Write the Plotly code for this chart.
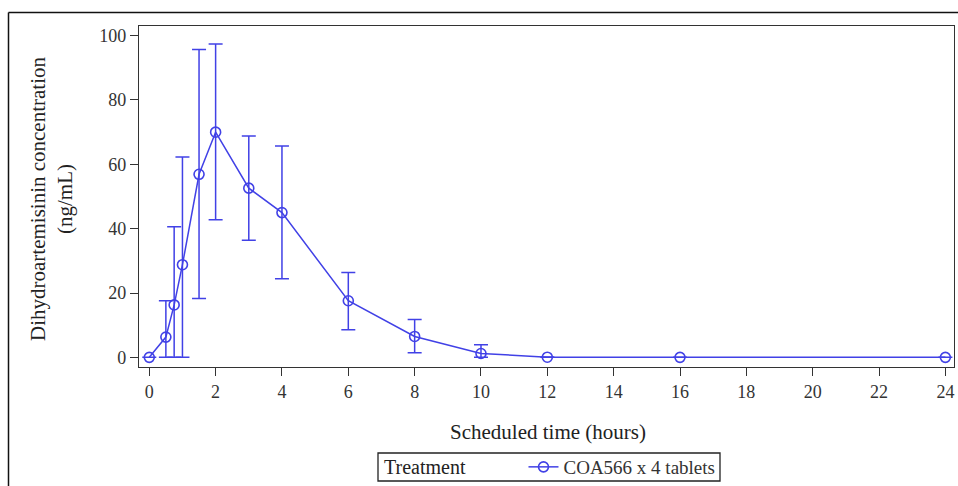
import plotly.graph_objects as go

# Data
time_h = [0, 0.5, 0.75, 1, 1.5, 2, 3, 4, 6, 8, 10, 12, 16, 24]
mean_conc = [0, 6.3, 16.3, 28.8, 56.9, 70.0, 52.6, 45.0, 17.6, 6.5, 1.2, 0.05, 0, 0]
upper = [0, 17.6, 40.6, 62.3, 95.7, 97.4, 68.8, 65.7, 26.4, 11.8, 3.9, 0.1, 0, 0]
lower = [0, 0, 0, 0, 18.3, 42.8, 36.4, 24.4, 8.6, 1.4, 0, 0, 0, 0]

series_name = "COA566 x 4 tablets"
legend_title = "Treatment"
x_title = "Scheduled time (hours)"
y_title = "Dihydroartemisinin concentration<br>(ng/mL)"
x_ticks = list(range(0, 25, 2))
y_ticks = [0, 20, 40, 60, 80, 100]

err_plus = [u - m for u, m in zip(upper, mean_conc)]
err_minus = [m - l for m, l in zip(mean_conc, lower)]

BLUE = "#4141e6"
FONT = "Liberation Serif"

fig = go.Figure()
fig.add_trace(go.Scatter(
    x=time_h, y=mean_conc, mode="lines+markers", name=series_name,
    line=dict(color=BLUE, width=1.5),
    marker=dict(symbol="circle-open", size=10, color=BLUE, line=dict(width=1.6, color=BLUE)),
    error_y=dict(type="data", symmetric=False, array=err_plus, arrayminus=err_minus,
                 color=BLUE, thickness=1.5, width=7),
))

W, H = 958, 486
ml, mr, mt, mb = 139, 4, 26, 119
pw, ph = W - ml - mr, H - mt - mb

def px_x(px):
    return (px - ml) / pw

def px_y(py):
    return (H - mb - py) / ph

fig.update_layout(
    width=W, height=H,
    margin=dict(l=ml, r=mr, t=mt, b=mb, autoexpand=False),
    paper_bgcolor="white", plot_bgcolor="white",
    font=dict(family=FONT, size=18, color="#222"),
    showlegend=True,
    legend=dict(
        orientation="h", x=px_x(551), xanchor="center", y=px_y(467), yanchor="middle",
        borderwidth=0, bgcolor="rgba(0,0,0,0)",
        title=dict(text=legend_title + "          ", side="left", font=dict(size=20, family=FONT, color="#222")),
        font=dict(size=19, family=FONT, color="#333"),
    ),
    xaxis=dict(
        range=[-0.31, 24.26], tickvals=x_ticks, ticktext=[str(v) for v in x_ticks],
        ticks="outside", ticklen=8, tickwidth=1.2, tickcolor="#333",
        showline=True, linecolor="#333", linewidth=1.3, mirror=True,
        showgrid=False, zeroline=False,
        tickfont=dict(size=18, family=FONT, color="#333"),
    ),
    yaxis=dict(
        range=[-3.0, 103.0], tickvals=y_ticks, ticktext=[str(v) for v in y_ticks],
        ticks="outside", ticklen=8, tickwidth=1.2, tickcolor="#333",
        showline=True, linecolor="#333", linewidth=1.3, mirror=True,
        showgrid=False, zeroline=False,
        tickfont=dict(size=18, family=FONT, color="#333"),
    ),
)

# axis titles as annotations
fig.add_annotation(text=x_title, xref="paper", yref="paper", x=px_x(548), y=px_y(432),
                   xanchor="center", yanchor="middle", showarrow=False,
                   font=dict(size=21, family=FONT, color="#222"))
fig.add_annotation(text=y_title, xref="paper", yref="paper", x=px_x(51), y=px_y(199),
                   xanchor="center", yanchor="middle", showarrow=False, textangle=-90,
                   font=dict(size=21, family=FONT, color="#222"))

# legend frame
fig.add_shape(type="rect", xref="paper", yref="paper",
              x0=px_x(378), x1=px_x(720), y0=px_y(453), y1=px_y(481),
              line=dict(color="#222", width=1.3), fillcolor="rgba(0,0,0,0)")

# outer frame (top and left edges visible in reference)
fig.add_shape(type="line", xref="paper", yref="paper",
              x0=px_x(8.5), x1=px_x(958), y0=px_y(12.5), y1=px_y(12.5),
              line=dict(color="#111", width=1.5))
fig.add_shape(type="line", xref="paper", yref="paper",
              x0=px_x(8.5), x1=px_x(8.5), y0=px_y(12.5), y1=px_y(486),
              line=dict(color="#111", width=1.5))

fig.write_html("out.html")
